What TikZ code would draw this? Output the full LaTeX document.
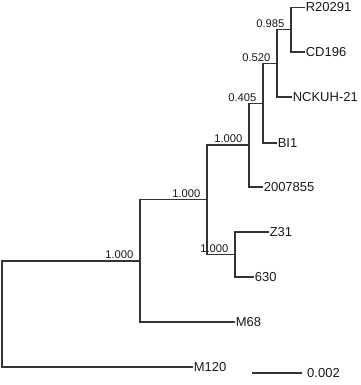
\documentclass[tikz,border=0pt]{standalone}
\usepackage{fontspec}
\setmainfont{Liberation Sans}
\begin{document}
\begin{tikzpicture}[x=1pt,y=-1pt,
  branch/.style={draw=black!80, line width=1.1pt},
  leaf/.style={anchor=west, inner sep=0.6pt, text=black!90, font=\fontsize{13}{15}\selectfont},
  support/.style={anchor=base east, inner sep=0pt, text=black!90, font=\fontsize{11.2}{13}\selectfont}]
\useasboundingbox (0,0) rectangle (360,385);
% internal nodes
\coordinate (root) at (2,314);
\coordinate (B) at (140,261);
\coordinate (A) at (207,199.5);
\coordinate (C) at (235,254.5);
\coordinate (D) at (249,145);
\coordinate (E) at (263,103.5);
\coordinate (F) at (277,63.25);
\coordinate (G) at (291,29.75);
% leaves
\coordinate (lR) at (305,7.5);
\coordinate (lCD) at (305,52);
\coordinate (lN) at (292,97);
\coordinate (lBI) at (277,143);
\coordinate (l20) at (263,187);
\coordinate (lZ) at (269,232);
\coordinate (l630) at (254,277);
\coordinate (lM68) at (235,322);
\coordinate (lM120) at (193,367);
% branches
\draw[branch] (root) |- (B);
\draw[branch] (root) |- (lM120);
\draw[branch] (B) |- (A);
\draw[branch] (B) |- (lM68);
\draw[branch] (A) |- (D);
\draw[branch] (A) |- (C);
\draw[branch] (C) |- (lZ);
\draw[branch] (C) |- (l630);
\draw[branch] (D) |- (E);
\draw[branch] (D) |- (l20);
\draw[branch] (E) |- (F);
\draw[branch] (E) |- (lBI);
\draw[branch] (F) |- (G);
\draw[branch] (F) |- (lN);
\draw[branch] (G) |- (lR);
\draw[branch] (G) |- (lCD);
% leaf labels
\node[leaf] (tR) at (lR) {R20291};
\node[leaf] (tCD) at (lCD) {CD196};
\node[leaf] (tN) at (lN) {NCKUH-21};
\node[leaf] (tBI) at (lBI) {BI1};
\node[leaf] (t20) at (l20) {2007855};
\node[leaf] (tZ) at (lZ) {Z31};
\node[leaf] (t630) at (l630) {630};
\node[leaf] (tM68) at (lM68) {M68};
\node[leaf] (tM120) at (lM120) {M120};
% support values
\node[support] (sB) at (133.5,258.8) {1.000};
\node[support] (sA) at (200.5,197.3) {1.000};
\node[support] (sC) at (228.5,252.3) {1.000};
\node[support] (sD) at (242.5,142.8) {1.000};
\node[support] (sE) at (256.5,101.3) {0.405};
\node[support] (sF) at (270.5,61.5) {0.520};
\node[support] (sG) at (284.5,27.5) {0.985};
% scale bar
\coordinate (s1) at (252,373);
\coordinate (s2) at (302,373);
\draw[branch] (s1) -- (s2);
\node[leaf, inner sep=0pt] (scale) at (307,373) {0.002};
\end{tikzpicture}
\end{document}
